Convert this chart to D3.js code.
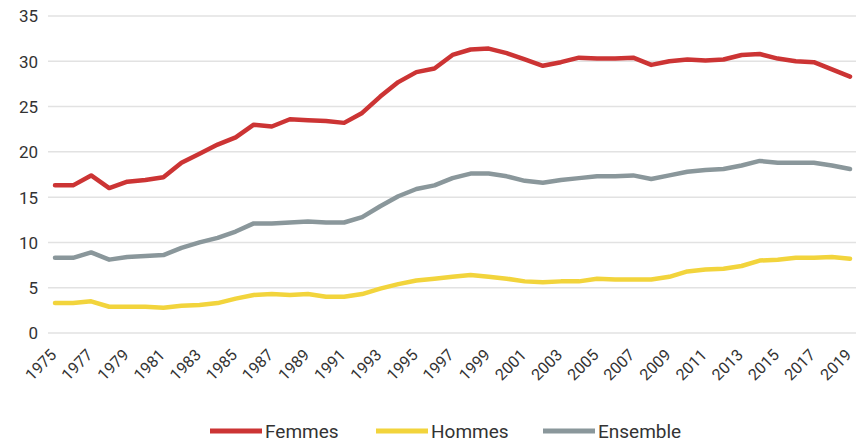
<!DOCTYPE html>
<html>
<head>
<meta charset="utf-8">
<script src="https://cdn.jsdelivr.net/npm/d3@7"></script>
<style>
  html, body { margin: 0; padding: 0; background: #fff; }
  svg text { font-family: Roboto, "DejaVu Sans", sans-serif; fill: #333; }
</style>
</head>
<body>
<div id="chart"></div>
<script>
// Années et séries
const annees = d3.range(1975, 2020);
const femmes = [16.3, 16.3, 17.4, 16.0, 16.7, 16.9, 17.2, 18.8, 19.8, 20.8,
  21.6, 23.0, 22.8, 23.6, 23.5, 23.4, 23.2, 24.3, 26.1, 27.7,
  28.8, 29.2, 30.7, 31.3, 31.4, 30.9, 30.2, 29.5, 29.9, 30.4,
  30.3, 30.3, 30.4, 29.6, 30.0, 30.2, 30.1, 30.2, 30.7, 30.8,
  30.3, 30.0, 29.9, 29.1, 28.3];
const hommes = [3.3, 3.3, 3.5, 2.9, 2.9, 2.9, 2.8, 3.0, 3.1, 3.3,
  3.8, 4.2, 4.3, 4.2, 4.3, 4.0, 4.0, 4.3, 4.9, 5.4,
  5.8, 6.0, 6.2, 6.4, 6.2, 6.0, 5.7, 5.6, 5.7, 5.7,
  6.0, 5.9, 5.9, 5.9, 6.2, 6.8, 7.0, 7.1, 7.4, 8.0,
  8.1, 8.3, 8.3, 8.4, 8.2];
const ensemble = [8.3, 8.3, 8.9, 8.1, 8.4, 8.5, 8.6, 9.4, 10.0, 10.5,
  11.2, 12.1, 12.1, 12.2, 12.3, 12.2, 12.2, 12.8, 14.0, 15.1,
  15.9, 16.3, 17.1, 17.6, 17.6, 17.3, 16.8, 16.6, 16.9, 17.1,
  17.3, 17.3, 17.4, 17.0, 17.4, 17.8, 18.0, 18.1, 18.5, 19.0,
  18.8, 18.8, 18.8, 18.5, 18.1];
const yTicks = [0, 5, 10, 15, 20, 25, 30, 35];
const xTicks = d3.range(1975, 2020, 2);

const series = [
  {nom: "Femmes", valeurs: femmes, couleur: "#cc3434"},
  {nom: "Hommes", valeurs: hommes, couleur: "#f2d43c"},
  {nom: "Ensemble", valeurs: ensemble, couleur: "#8a979b"}
];

const width = 858, height = 446;

const svg = d3.select("#chart")
  .append("svg")
  .attr("width", width)
  .attr("height", height);

const x = d3.scaleLinear()
  .domain([1975, 2019])
  .range([55, 850]);

const y = d3.scaleLinear()
  .domain([0, 35])
  .range([333, 16]);

// Grille horizontale
svg.append("g")
  .selectAll("line")
  .data(yTicks)
  .enter()
  .append("line")
  .attr("x1", 48)
  .attr("x2", 856)
  .attr("y1", d => y(d))
  .attr("y2", d => y(d))
  .attr("stroke", "#e2e2e2")
  .attr("stroke-width", 1.5);

// Axe Y (texte seulement)
const axeY = svg.append("g")
  .attr("transform", "translate(38,0)")
  .call(d3.axisLeft(y).tickValues(yTicks).tickSize(0).tickPadding(0));
axeY.select(".domain").remove();
axeY.selectAll("text")
  .attr("font-size", "17px")
  .attr("dy", "0.35em");

// Axe X (étiquettes inclinées)
const axeX = svg.append("g")
  .attr("transform", "translate(0,340)")
  .call(d3.axisBottom(x).tickValues(xTicks).tickFormat(d3.format("d")).tickSize(0).tickPadding(0));
axeX.select(".domain").remove();
axeX.selectAll("text")
  .attr("font-size", "16px")
  .attr("transform", "translate(-2,12) rotate(-45)")
  .attr("dy", "0.35em")
  .style("text-anchor", "end");

// Courbes
const ligne = d3.line()
  .x((d, i) => x(annees[i]))
  .y(d => y(d));

svg.append("g")
  .selectAll("path")
  .data(series)
  .enter()
  .append("path")
  .attr("d", d => ligne(d.valeurs))
  .attr("fill", "none")
  .attr("stroke", d => d.couleur)
  .attr("stroke-width", 4.5)
  .attr("stroke-linejoin", "round")
  .attr("stroke-linecap", "round");

// Légende
const legendeX = [210, 376, 543];
const legende = svg.append("g")
  .selectAll("g")
  .data(series)
  .enter()
  .append("g")
  .attr("transform", (d, i) => `translate(${legendeX[i]},431)`);

legende.append("line")
  .attr("x1", 0)
  .attr("x2", 52)
  .attr("stroke", d => d.couleur)
  .attr("stroke-width", 5);

legende.append("text")
  .attr("x", 55)
  .attr("dy", "0.35em")
  .attr("font-size", "19px")
  .text(d => d.nom);
</script>
</body>
</html>
